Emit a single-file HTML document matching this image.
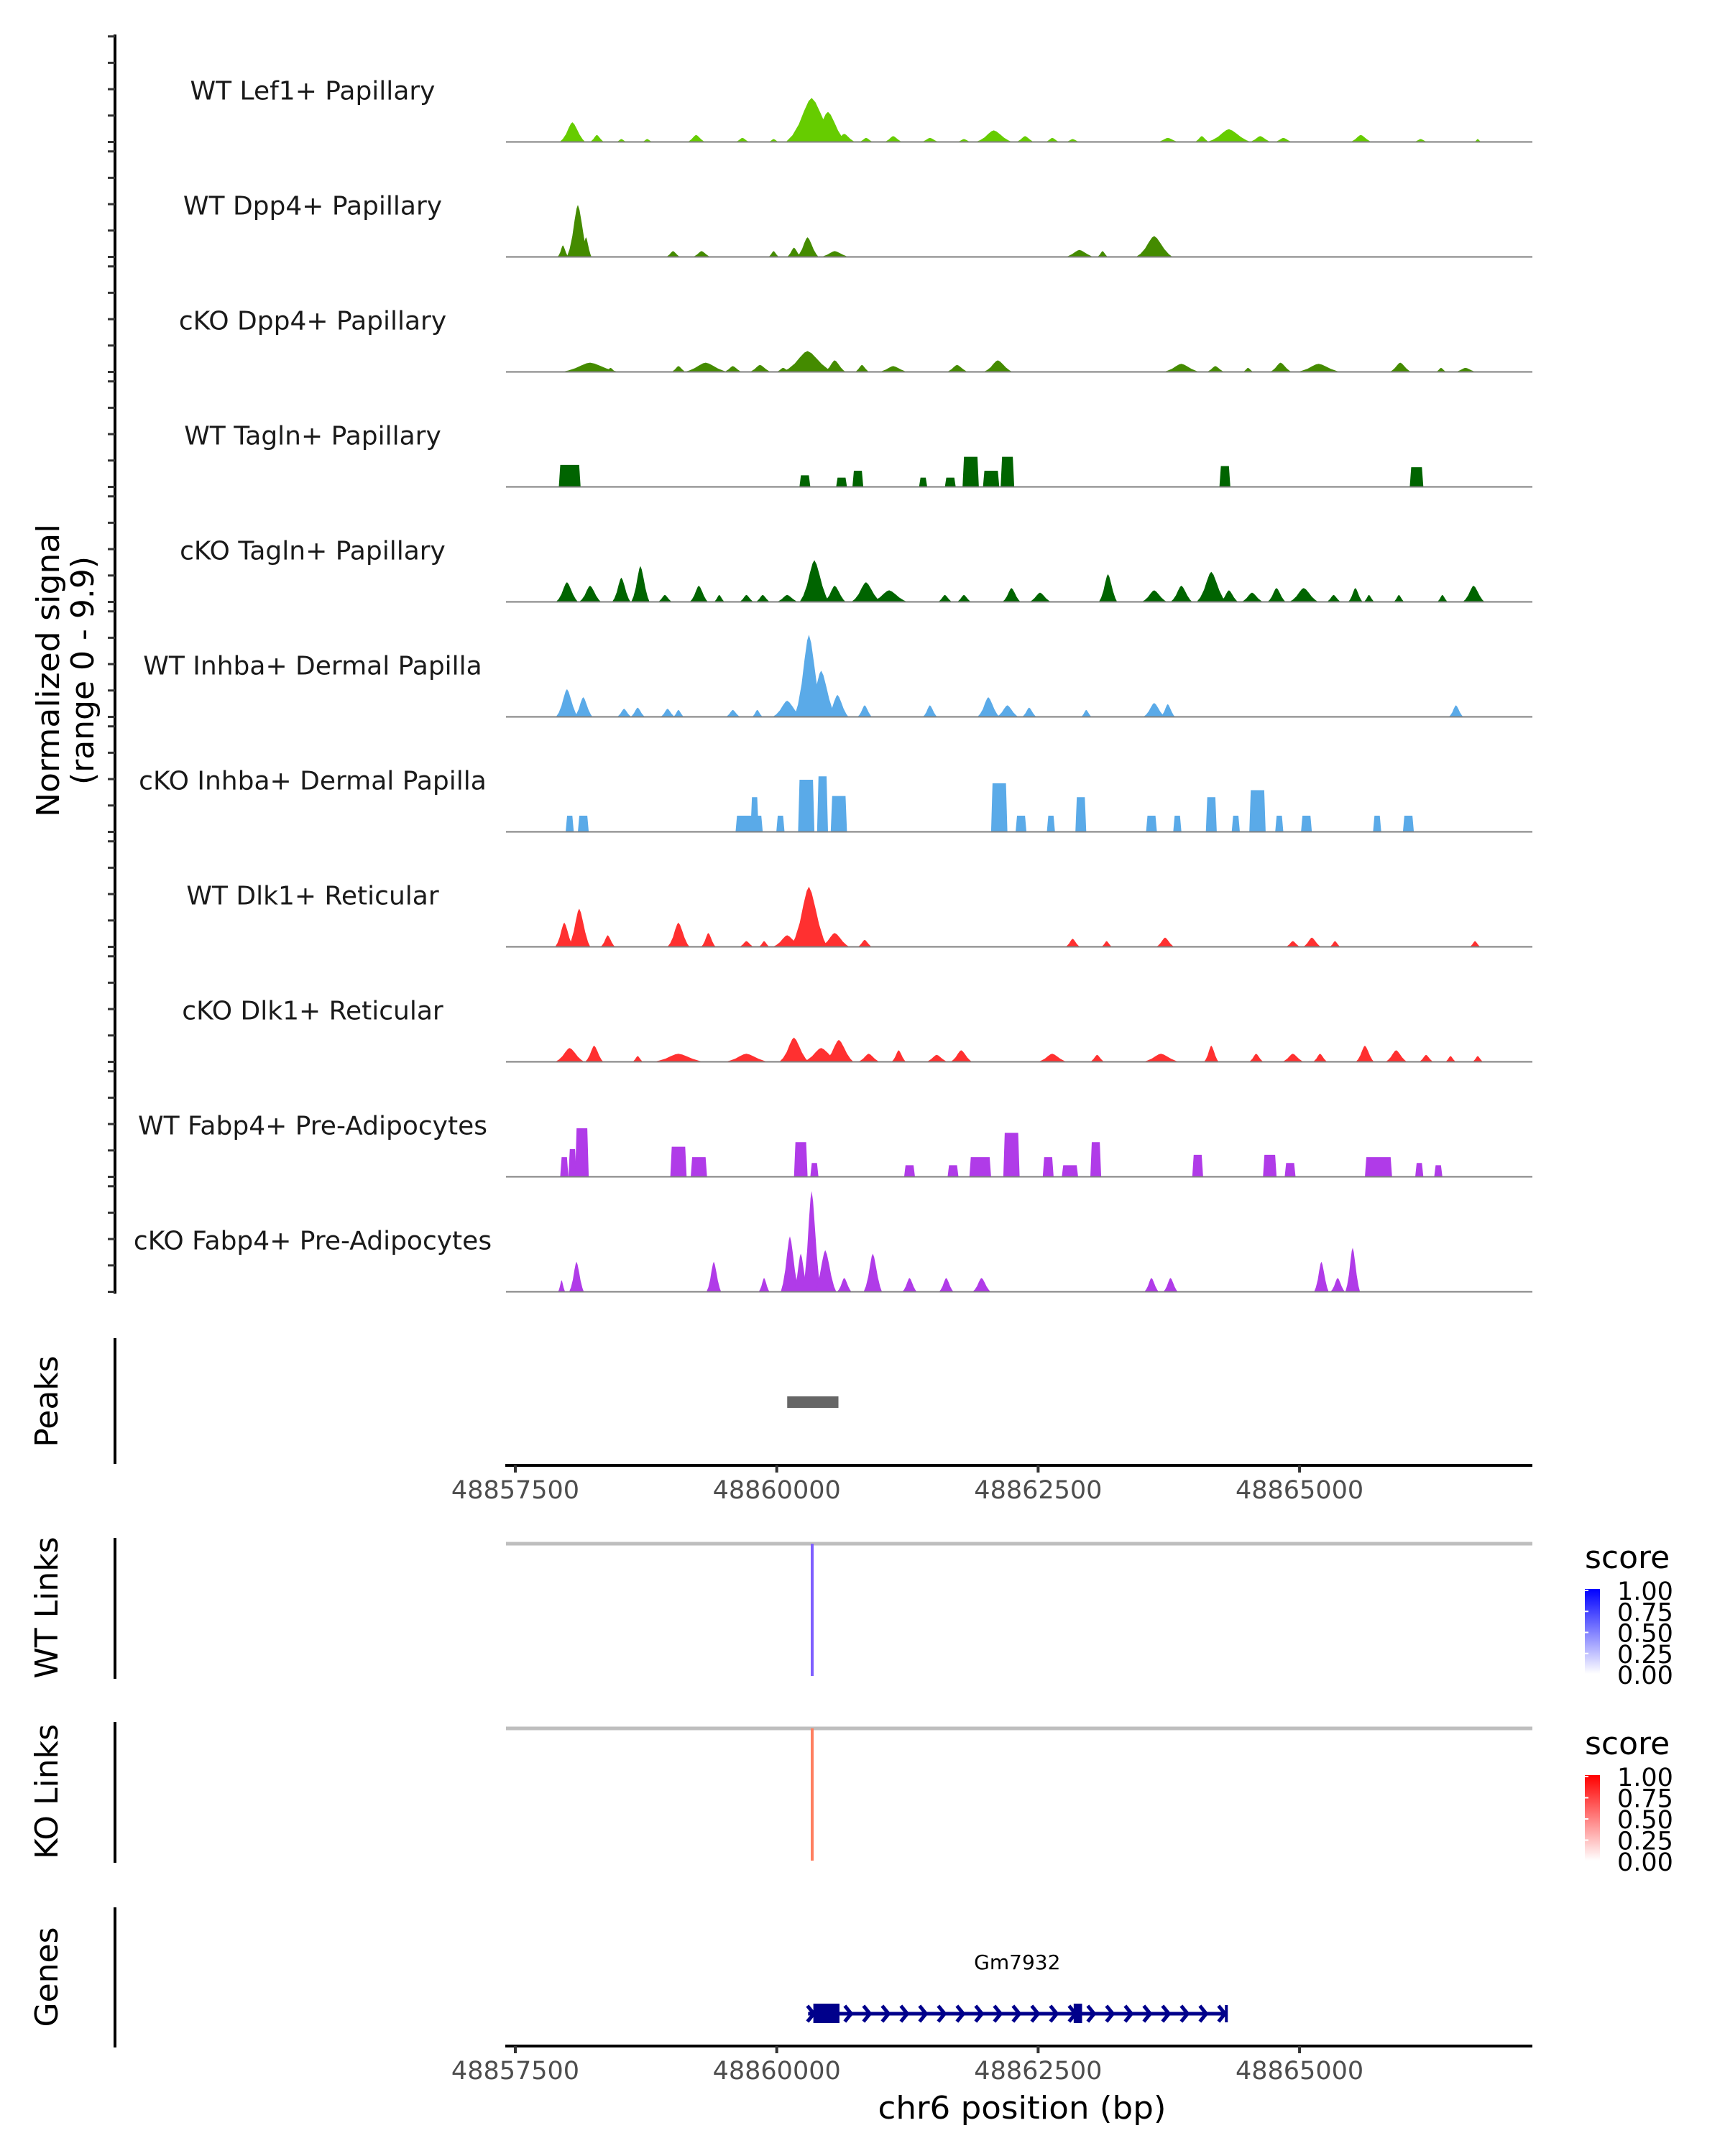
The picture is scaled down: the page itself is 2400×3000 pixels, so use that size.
<!DOCTYPE html>
<html><head><meta charset="utf-8">
<style>
html,body{margin:0;padding:0;background:#fff;}
svg{display:block;}
text{font-family:"DejaVu Sans","Liberation Sans",sans-serif;}
</style></head>
<body>
<svg id="chart" width="2400" height="3000" viewBox="0 0 2400 3000" xmlns="http://www.w3.org/2000/svg">
<g id="static">
  <text transform="translate(82,933) rotate(-90)" text-anchor="middle" font-size="44" fill="#000" textLength="408" lengthAdjust="spacingAndGlyphs">Normalized signal</text>
  <text transform="translate(130,933) rotate(-90)" text-anchor="middle" font-size="44" fill="#000">(range 0 - 9.9)</text>
  <line x1="160" y1="48" x2="160" y2="1800" stroke="#000" stroke-width="4"/>
  <text transform="translate(80,1950) rotate(-90)" text-anchor="middle" font-size="44">Peaks</text>
  <line x1="160" y1="1862" x2="160" y2="2037" stroke="#000" stroke-width="4"/>
  <text transform="translate(80,2237) rotate(-90)" text-anchor="middle" font-size="44">WT Links</text>
  <line x1="160" y1="2140" x2="160" y2="2336" stroke="#000" stroke-width="4"/>
  <text transform="translate(80,2493) rotate(-90)" text-anchor="middle" font-size="44">KO Links</text>
  <line x1="160" y1="2396" x2="160" y2="2592" stroke="#000" stroke-width="4"/>
  <text transform="translate(80,2751) rotate(-90)" text-anchor="middle" font-size="44">Genes</text>
  <line x1="160" y1="2654" x2="160" y2="2849" stroke="#000" stroke-width="4"/>
  <line x1="703" y1="2039" x2="2132" y2="2039" stroke="#000" stroke-width="4"/>
  <line x1="703" y1="2847" x2="2132" y2="2847" stroke="#000" stroke-width="4"/>
  <text x="1422" y="2948" text-anchor="middle" font-size="44" textLength="401" lengthAdjust="spacingAndGlyphs">chr6 position (bp)</text>
  <defs>
    <linearGradient id="gBlue" x1="0" y1="1" x2="0" y2="0"><stop offset="0" stop-color="#ffffff"/><stop offset="1" stop-color="#0000ff"/></linearGradient>
    <linearGradient id="gRed" x1="0" y1="1" x2="0" y2="0"><stop offset="0" stop-color="#ffffff"/><stop offset="1" stop-color="#ff0000"/></linearGradient>
  </defs>
  <g>
    <text x="2205" y="2182" font-size="44">score</text>
    <rect x="2205" y="2211" width="21" height="118" fill="url(#gBlue)"/>
  </g>
  <g>
    <text x="2205" y="2441" font-size="44">score</text>
    <rect x="2205" y="2470" width="21" height="119" fill="url(#gRed)"/>
  </g>
</g>
<g id="dyn"></g>
</svg>
<script>
// ---- data ----
const regionStart = 48857500;
const regionEnd = 48867227;
const xTicks = [48857500, 48860000, 48862500, 48865000];
const trackNames = ["WT Lef1+ Papillary","WT Dpp4+ Papillary","cKO Dpp4+ Papillary","WT Tagln+ Papillary","cKO Tagln+ Papillary","WT Inhba+ Dermal Papilla","cKO Inhba+ Dermal Papilla","WT Dlk1+ Reticular","cKO Dlk1+ Reticular","WT Fabp4+ Pre-Adipocytes","cKO Fabp4+ Pre-Adipocytes"];
const trackColors = ["#66cc00","#448b00","#448b00","#006400","#006400","#5aaae8","#5aaae8","#ff3030","#ff3030","#b03be8","#b03be8"];
const trackBlocky = [false,false,false,true,false,false,true,false,false,true,false];
// peaks: [offset from regionStart (bp), half-width (bp), normalized signal]
const wtLef1 = [[546,91,1.7],[780,52,0.6],[1014,39,0.25],[1261,39,0.25],[1729,65,0.6],[2171,52,0.35],[2470,39,0.25],[2834,182,3.8],[2990,130,2.6],[3146,78,0.7],[3354,52,0.35],[3614,65,0.5],[3965,65,0.35],[4290,52,0.25],[4576,130,1.0],[4875,65,0.5],[5135,52,0.35],[5330,52,0.25],[6240,78,0.35],[6565,52,0.5],[6825,156,1.1],[7124,78,0.5],[7345,65,0.35],[8086,78,0.6],[8658,52,0.25],[9204,26,0.25]];
const wtDpp4 = [[455,39,1.0],[598,78,4.5],[676,39,1.7],[1508,52,0.5],[1781,65,0.5],[2470,39,0.5],[2665,52,0.8],[2795,78,1.7],[3055,104,0.5],[5395,104,0.6],[5616,39,0.5],[6110,130,1.8]];
const koDpp4 = [[715,208,0.8],[910,39,0.35],[1560,52,0.5],[1820,156,0.8],[2080,65,0.5],[2340,78,0.6],[2561,52,0.35],[2795,182,1.8],[3055,78,1.0],[3315,52,0.6],[3614,104,0.5],[4225,78,0.6],[4615,104,1.0],[6370,130,0.7],[6695,65,0.5],[7007,39,0.35],[7319,78,0.8],[7683,156,0.7],[8463,78,0.8],[8853,39,0.35],[9087,78,0.35]];
const wtTagln = [[520,104,1.9],[2769,52,1.0],[3120,52,0.8],[3276,52,1.4],[3900,39,0.8],[4160,52,0.8],[4355,78,2.6],[4550,78,1.4],[4706,65,2.6],[6786,52,1.8],[8619,65,1.7]];
const koTagln = [[494,78,1.7],[715,78,1.4],[1014,65,2.1],[1196,65,3.1],[1430,52,0.6],[1755,65,1.4],[1950,39,0.6],[2210,52,0.6],[2366,52,0.6],[2600,78,0.6],[2860,104,3.6],[3055,78,1.4],[3354,104,1.7],[3575,130,1.0],[4108,52,0.6],[4290,52,0.6],[4745,65,1.2],[5018,78,0.8],[5668,65,2.4],[6110,91,1.0],[6370,78,1.4],[6656,104,2.6],[6825,65,1.0],[7046,78,0.8],[7280,65,1.2],[7540,104,1.2],[7826,52,0.6],[8034,52,1.2],[8164,39,0.6],[8450,39,0.6],[8866,39,0.6],[9165,78,1.4]];
const wtInhba = [[494,78,2.4],[650,65,1.7],[1040,52,0.7],[1170,52,0.8],[1456,52,0.7],[1560,39,0.6],[2080,52,0.6],[2314,39,0.6],[2600,104,1.4],[2808,104,7.1],[2925,104,4.0],[3081,78,1.9],[3341,52,1.0],[3965,52,1.0],[4524,78,1.7],[4706,78,1.0],[4914,52,0.8],[5460,39,0.6],[6110,78,1.2],[6240,52,1.1],[8996,52,1.0]];
const koInhba = [[520,39,1.4],[650,52,1.4],[2236,130,1.4],[2288,39,3.0],[2535,39,1.4],[2782,78,4.5],[2938,52,4.8],[3094,78,3.1],[4628,78,4.2],[4836,52,1.4],[5122,39,1.4],[5408,52,3.0],[6084,52,1.4],[6331,39,1.4],[6656,52,3.0],[6890,39,1.4],[7098,78,3.6],[7306,39,1.4],[7566,52,1.4],[8242,39,1.4],[8541,52,1.4]];
const wtDlk1 = [[468,65,2.1],[611,78,3.3],[884,52,1.0],[1560,78,2.1],[1846,52,1.2],[2210,52,0.5],[2379,39,0.5],[2600,104,1.0],[2808,130,5.2],[3055,104,1.2],[3341,52,0.6],[5330,52,0.7],[5655,39,0.5],[6214,65,0.8],[7436,52,0.5],[7618,65,0.8],[7839,39,0.5],[9178,39,0.5]];
const koDlk1 = [[520,104,1.2],[754,65,1.4],[1170,39,0.5],[1560,182,0.7],[2210,156,0.7],[2665,104,2.1],[2925,130,1.2],[3094,104,1.9],[3380,78,0.7],[3666,52,1.0],[4030,78,0.6],[4264,78,1.0],[5135,104,0.7],[5564,52,0.6],[6175,130,0.7],[6656,52,1.4],[7085,52,0.7],[7436,78,0.7],[7696,52,0.7],[8125,65,1.4],[8424,78,1.0],[8710,52,0.6],[8944,39,0.5],[9204,39,0.5]];
const wtFabp4 = [[468,39,1.7],[546,39,2.4],[637,65,4.2],[1560,78,2.6],[1755,78,1.7],[2730,65,3.0],[2860,39,1.2],[3770,52,1.0],[4186,52,1.0],[4446,104,1.7],[4745,78,3.8],[5096,52,1.7],[5304,78,1.0],[5551,52,3.0],[6526,52,1.9],[7215,65,1.9],[7410,52,1.2],[8255,130,1.7],[8645,39,1.2],[8827,39,1.0]];
const koFabp4 = [[442,26,1.0],[585,52,2.6],[1898,52,2.6],[2379,39,1.2],[2626,65,4.8],[2730,52,3.3],[2834,65,8.7],[2964,78,3.6],[3146,52,1.2],[3419,65,3.3],[3770,52,1.2],[4121,52,1.2],[4459,65,1.2],[6084,52,1.2],[6266,52,1.2],[7709,52,2.6],[7865,52,1.2],[8008,52,3.8]];
const trackPeaks = [wtLef1, wtDpp4, koDpp4, wtTagln, koTagln, wtInhba, koInhba, wtDlk1, koDlk1, wtFabp4, koFabp4];
const peakRegions = [[48860100, 48860590]];
const wtLinks = [[48860339, 0.62]];
const koLinks = [[48860339, 0.55]];
const legendTicks = ["1.00","0.75","0.50","0.25","0.00"];
const geneName = "Gm7932";
const geneSpan = [48860300, 48864300];
const geneExons = [[48860350, 48860600],[48862840, 48862920]];

// ---- scales ----
const X0 = 717, PXBP = 1/6.874;
function xs(pos){ return X0 + (pos - regionStart) * PXBP; }
const BASE0 = 197.5, TRACK_H = 160, UNIT = 16.1;
function ys(i, v){ return BASE0 + i*TRACK_H - v*UNIT; }

const NS = "http://www.w3.org/2000/svg";
const dyn = document.getElementById("dyn");
function mk(tag, attrs, parent){
  const e = document.createElementNS(NS, tag);
  for (const k in attrs) e.setAttribute(k, attrs[k]);
  (parent || dyn).appendChild(e);
  return e;
}

const profile = [[-1,0],[-0.75,0.15],[-0.5,0.4],[-0.3,0.7],[-0.12,0.93],[0,1],[0.15,0.9],[0.35,0.65],[0.55,0.38],[0.8,0.13],[1,0]];

trackNames.forEach((name, i) => {
  const g = mk("g", {});
  
  
  const base = ys(i, 0);
  for (let k = 0; k < 5; k++) {
    const t = mk("line", {x1:150, x2:160, y1:base - k*36.7, y2:base - k*36.7, stroke:"#333", "stroke-width":3}, g);
    
    
  }
  const lab = mk("text", {x:435, y:base - 59, "text-anchor":"middle", "font-size":36, fill:"#1a1a1a"}, g);
  lab.textContent = name;
  
  
  trackPeaks[i].forEach(p => {
    const c = regionStart + p[0], v = p[2];
    let pts;
    if (trackBlocky[i]) {
      const hw = p[1];
      pts = [[xs(c-hw), base],[xs(c-hw)+2, ys(i,v)],[xs(c+hw)-2, ys(i,v)],[xs(c+hw), base]];
    } else {
      const hw = p[1]*1.35;
      pts = profile.map(q => [xs(c + q[0]*hw), ys(i, v*q[1])]);
    }
    const poly = mk("polygon", {points: pts.map(q => q[0].toFixed(1)+","+q[1].toFixed(1)).join(" "), fill: trackColors[i]}, g);
    
    
  });
  const bl = mk("line", {x1:704, x2:2132, y1:base, y2:base, stroke:"#7f7f7f", "stroke-width":2}, g);
  
  
});

peakRegions.forEach(r => {
  const b = mk("rect", {x:xs(r[0]), y:1943, width:xs(r[1])-xs(r[0]), height:16, fill:"#666666"});
  
  
});

[[2039,2072],[2847,2880]].forEach(a => {
  xTicks.forEach(t => {
    const tk = mk("line", {x1:xs(t), x2:xs(t), y1:a[0], y2:a[0]+10, stroke:"#333", "stroke-width":4});
    
    
    const tl = mk("text", {x:xs(t), y:a[1]+13, "text-anchor":"middle", "font-size":35, fill:"#4d4d4d"});
    tl.textContent = String(t);
    
    
  });
});

function drawLinks(links, top, bottom, color, nm){
  const gl = mk("line", {x1:704, x2:2132, y1:top, y2:top, stroke:"#bebebe", "stroke-width":5});
  
  
  links.forEach(l => {
    const ln = mk("line", {x1:xs(l[0]), x2:xs(l[0]), y1:top, y2:bottom, stroke:color, "stroke-width":4});
    
    
  });
}
drawLinks(wtLinks, 2148, 2332, "#7f5fff", "wt-link");
drawLinks(koLinks, 2405, 2589, "#ff7f60", "ko-link");

function legend(top, bot){
  legendTicks.forEach((t, k) => {
    const y = top + (bot-top)*k/(legendTicks.length-1);
    const tl = mk("text", {x:2250, y:y+13, "font-size":35, fill:"#000"});
    tl.textContent = t;
    
    
    const tk = mk("line", {x1:2205, x2:2210, y1:y, y2:y, stroke:"#fff", "stroke-width":2});
    
    
  });
}
legend(2213, 2330);
legend(2472, 2590);

const gname = mk("text", {x:(xs(geneSpan[0])+xs(geneSpan[1]))/2, y:2740, "text-anchor":"middle", "font-size":28});
gname.textContent = geneName;


const gline = mk("line", {x1:xs(geneSpan[0]), x2:xs(geneSpan[1]), y1:2802, y2:2802, stroke:"#00008b", "stroke-width":5});


for (let x = xs(geneSpan[0]) + 4; x < xs(geneSpan[1]) - 2; x += 26) {
  const ch = mk("polyline", {points:`${x-5},2791 ${x+4},2802 ${x-5},2813`, fill:"none", stroke:"#00008b", "stroke-width":5});
  
  
}
const gend = mk("line", {x1:xs(geneSpan[1]), x2:xs(geneSpan[1]), y1:2790, y2:2814, stroke:"#00008b", "stroke-width":4});


geneExons.forEach(e => {
  const r = mk("rect", {x:xs(e[0]), y:2788, width:xs(e[1])-xs(e[0]), height:27, fill:"#00008b"});
  
  
});
</script>
</body></html>
